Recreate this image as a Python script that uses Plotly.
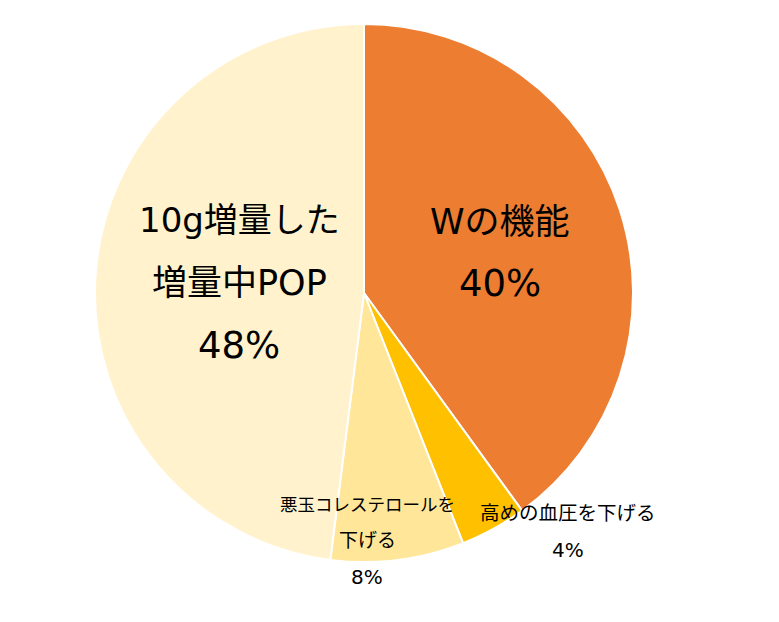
import plotly.graph_objects as go

# Slice data (clockwise from 12 o'clock)
labels = ["Wの機能", "高めの血圧を下げる", "悪玉コレステロールを下げる", "10g増量した増量中POP"]
values = [40, 4, 8, 48]
colors = ["#ED7D31", "#FFC000", "#FFE699", "#FFF2CC"]

# Label lines as they are broken on the chart
label_lines = [
    ["Wの機能"],
    ["高めの血圧を下げる"],
    ["悪玉コレステロールを", "下げる"],
    ["10g増量した", "増量中POP"],
]

W, H = 779, 622
cx, cy, r = 364, 293, 269

fig = go.Figure(go.Pie(
    labels=labels,
    values=values,
    sort=False,
    direction="clockwise",
    rotation=0,
    marker=dict(colors=colors, line=dict(color="white", width=2)),
    textinfo="none",
    hoverinfo="label+percent",
    showlegend=False,
    domain=dict(x=[(cx - r) / W, (cx + r) / W],
                y=[(H - cy - r) / H, (H - cy + r) / H]),
))

total = sum(values)
pct = [f"{round(v / total * 100)}%" for v in values]

# Wide Verdana-like Latin glyphs, CJK falls back to Noto Sans CJK JP
FONT = "DejaVu Sans, Noto Sans CJK JP, sans-serif"

# (center x, [(line y, font size), ...]) in pixels from top-left
placements = [
    (500, [(222, 35), (283, 37)]),
    (568, [(513, 19.5), (550, 20)]),
    (367, [(505, 17.5), (540, 19), (577, 20)]),
    (239, [(220, 34), (283, 35), (345, 37)]),
]

annotations = []
for lines, p, (x, rows) in zip(label_lines, pct, placements):
    for txt, (y, size) in zip(lines + [p], rows):
        annotations.append(dict(
            x=x / W, y=1 - y / H, xref="paper", yref="paper",
            text=txt, showarrow=False, xanchor="center", yanchor="middle",
            font=dict(family=FONT, size=size, color="#000000"),
        ))

fig.update_layout(
    width=W, height=H,
    margin=dict(l=0, r=0, t=0, b=0),
    paper_bgcolor="white",
    plot_bgcolor="white",
    annotations=annotations,
)

fig.write_html("out.html")
